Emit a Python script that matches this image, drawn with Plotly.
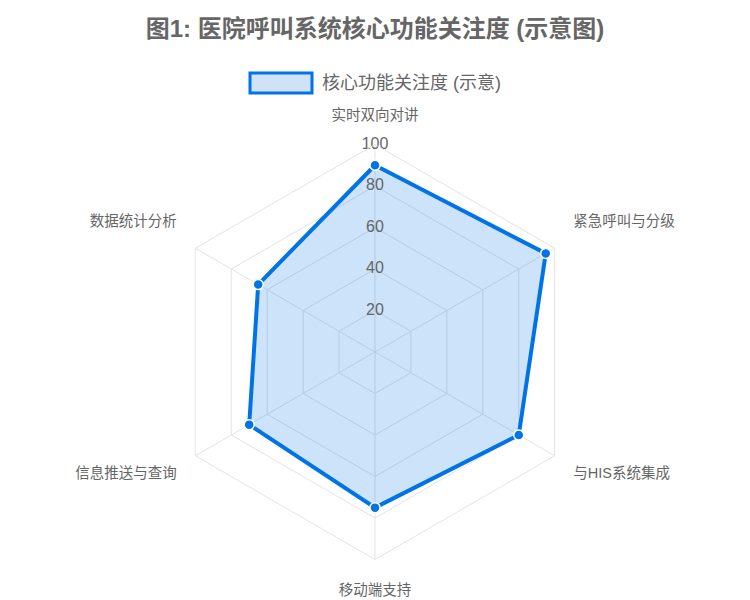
import plotly.graph_objects as go

categories = ['实时双向对讲', '紧急呼叫与分级', '与HIS系统集成', '移动端支持', '信息推送与查询', '数据统计分析']
values = [90, 95, 80, 75, 70, 65]
radial_ticks = [20, 40, 60, 80, 100]
series_name = '核心功能关注度 (示意)'
title_text = '图1: 医院呼叫系统核心功能关注度 (示意图)'

FONT = 'Liberation Sans, Arial, Noto Sans CJK SC, sans-serif'
LINE = 'rgb(0,115,230)'
FILL = 'rgba(0,115,230,0.2)'
GRID = '#e3e3e3'
TXT = '#666666'

# upper-side labels sit a little higher (text bottom at the anchor point)
upper = {1, 5}
tick_text = [c + '<br> ' if i in upper else c for i, c in enumerate(categories)]

fig = go.Figure()

fig.add_trace(go.Scatterpolar(
    r=values + values[:1],
    theta=categories + categories[:1],
    mode='lines+markers',
    fill='toself',
    fillcolor=FILL,
    line=dict(color=LINE, width=4),
    marker=dict(size=10, color=LINE, line=dict(color='white', width=1.5)),
    name=series_name,
    showlegend=False,
    hoverinfo='skip',
))

# radial tick labels centred on the vertical axis
fig.add_trace(go.Scatterpolar(
    r=radial_ticks,
    theta=[categories[0]] * len(radial_ticks),
    mode='text',
    text=[str(v) for v in radial_ticks],
    textposition='middle center',
    textfont=dict(size=16, color=TXT, family=FONT),
    showlegend=False,
    hoverinfo='skip',
    cliponaxis=False,
))

cx, cy, R = 375, 352, 207.5
W, H = 750, 600

fig.update_layout(
    width=W, height=H,
    margin=dict(l=0, r=0, t=0, b=0),
    paper_bgcolor='white',
    plot_bgcolor='white',
    font=dict(family=FONT, color=TXT),
    title=dict(text='<b>' + title_text + '</b>', x=0.5, xanchor='center',
               y=1 - 29 / H, yanchor='middle', yref='container',
               font=dict(size=24, color=TXT, family=FONT)),
    showlegend=False,
    polar=dict(
        domain=dict(x=[(cx - R) / W, (cx + R) / W],
                    y=[(H - cy - R) / H, (H - cy + R) / H]),
        bgcolor='white',
        gridshape='linear',
        radialaxis=dict(range=[0, 100], tickvals=radial_ticks, showticklabels=False,
                        ticks='', showline=False, gridcolor=GRID, gridwidth=1, angle=90),
        angularaxis=dict(rotation=90, direction='clockwise', showticklabels=True,
                         tickmode='array', tickvals=categories, ticktext=tick_text,
                         ticks='outside', ticklen=18, tickcolor='rgba(0,0,0,0)',
                         tickfont=dict(size=14.5, color=TXT, family=FONT),
                         gridcolor=GRID, linecolor=GRID, linewidth=1,
                         showline=True, categoryorder='array', categoryarray=categories),
    ),
    shapes=[dict(type='rect', xref='paper', yref='paper',
                 x0=250 / W, x1=312 / W, y0=1 - 93 / H, y1=1 - 73 / H,
                 fillcolor='rgb(207,226,248)', line=dict(color=LINE, width=3))],
    annotations=[dict(text=series_name, xref='paper', yref='paper',
                      x=320 / W, y=1 - 83 / H, xanchor='left', yanchor='middle',
                      showarrow=False, font=dict(size=18, color=TXT, family=FONT))],
)

fig.write_html('out.html', config={'displayModeBar': False},
               post_script="document.body.style.margin='0';")
